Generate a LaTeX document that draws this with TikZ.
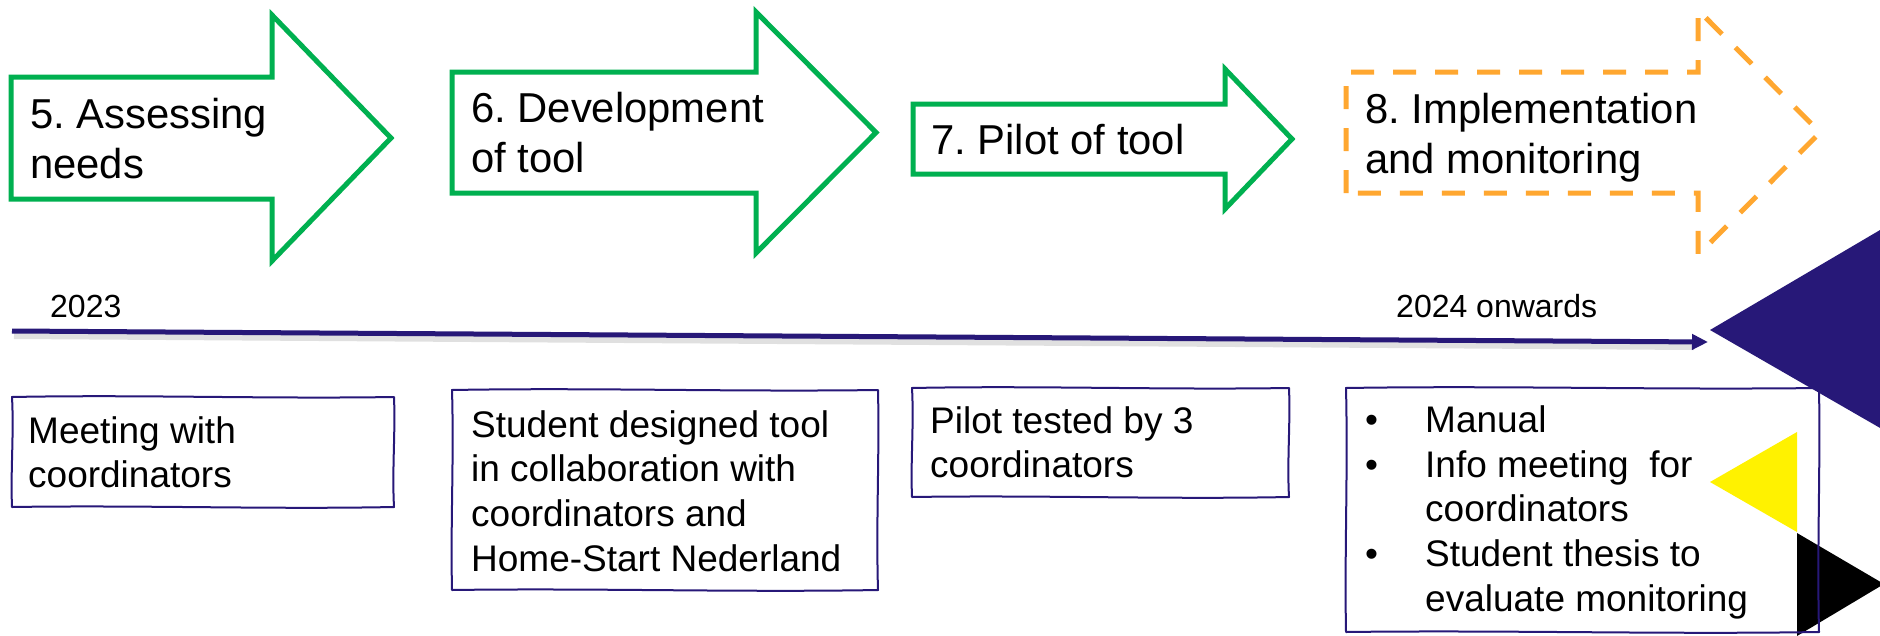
\documentclass[tikz,border=0pt]{standalone}
\usepackage{fontspec}
\setmainfont{Liberation Sans}
\usetikzlibrary{arrows.meta,calc}
\definecolor{grn}{RGB}{0,176,80}
\definecolor{org}{RGB}{255,167,48}
\definecolor{navy}{RGB}{39,24,120}
\frenchspacing
\newcommand\wobblybox[1]{%
  \draw[boxline] (#1.north west)
    .. controls ($(#1.north west)!0.33!(#1.north east)+(0,-2.5)$) and ($(#1.north west)!0.66!(#1.north east)+(0,2)$) .. (#1.north east)
    .. controls ($(#1.north east)!0.33!(#1.south east)+(1.5,0)$) and ($(#1.north east)!0.66!(#1.south east)+(-2,0)$) .. (#1.south east)
    .. controls ($(#1.south east)!0.33!(#1.south west)+(0,2.5)$) and ($(#1.south east)!0.66!(#1.south west)+(0,-2)$) .. (#1.south west)
    .. controls ($(#1.south west)!0.33!(#1.north west)+(-1.5,0)$) and ($(#1.south west)!0.66!(#1.north west)+(2,0)$) .. cycle;}
\begin{document}
\begin{tikzpicture}[x=1pt,y=-1pt,
  stagearrow/.style={draw=grn, line width=5pt, line join=miter, fill=white},
  planarrow/.style={draw=org, line width=5pt, dash pattern=on 23pt off 19pt},
  stagetext/.style={font=\fontsize{41.8}{50}\selectfont, align=left, inner sep=0pt, anchor=north west},
  boxtext/.style={font=\fontsize{37}{44.7}\selectfont, align=left, inner sep=0pt, anchor=north west},
  yeartext/.style={font=\fontsize{32}{38}\selectfont, inner sep=0pt, anchor=base west},
  boxframe/.style={draw=none, inner sep=0pt, outer sep=0pt},
  boxline/.style={draw=navy, line width=2pt, line join=round},
  timeline/.style={draw=navy, line width=5pt, -{Triangle[length=16pt,width=15pt]}}]
\useasboundingbox (0,0) rectangle (1880,635);
\fill[white] (0,0) rectangle (1880,635);

% stage arrows
\draw[stagearrow] (11,77) -- (272,77) -- (272,15) -- (391,138) -- (272,261) -- (272,199) -- (11,199) -- cycle;
\node[stagetext] (s5) at (30,98) {5. Assessing\\needs};

\draw[stagearrow] (452,72) -- (756,72) -- (756,12) -- (876,132.5) -- (756,253) -- (756,193) -- (452,193) -- cycle;
\node[stagetext] (s6) at (471,92) {6. Development\\of tool};

\draw[stagearrow] (913,104) -- (1225,104) -- (1225,69) -- (1292,139) -- (1225,209) -- (1225,174) -- (913,174) -- cycle;
\node[stagetext, anchor=base west] (s7) at (931,154) {7. Pilot of tool};

\draw[planarrow] (1346,193) -- (1346,72) -- (1698,72) -- (1698,10) -- (1820,132.5) -- (1698,255) -- (1698,193) -- cycle;
\node[stagetext] (s8) at (1365,93) {8. Implementation\\and monitoring};

% timeline
\coordinate (tl0) at (12,331);
\coordinate (tl1) at (1708,342);
\draw[black, opacity=0.12, line width=6pt] ([shift={(2,5)}]tl0) -- ([shift={(-14,5)}]tl1);
\draw[timeline] (tl0) -- (tl1);
\node[yeartext] (y23) at (50,317) {2023};
\node[yeartext] (y24) at (1396,317) {2024 onwards};

% boxes
\node[boxframe, minimum width=382pt, minimum height=110pt] (b1) at (203,452) {};
\wobblybox{b1}
\node[boxtext] (t1) at (28,416) {Meeting with\\coordinators};

\node[boxframe, minimum width=426pt, minimum height=200pt] (b2) at (665,490) {};
\wobblybox{b2}
\node[boxtext] (t2) at (471,410) {Student designed tool\\in collaboration with\\coordinators and\\Home-Start Nederland};

\node[boxframe, minimum width=377pt, minimum height=109pt] (b3) at (1100.5,442.5) {};
\wobblybox{b3}
\node[boxtext] (t3) at (930,406) {Pilot tested by 3\\coordinators};

% decorative triangles
\fill[yellow] (1710,482) -- (1797,432) -- (1797,532) -- cycle;
\fill[black] (1797,533) -- (1884,584) -- (1797,636) -- cycle;

\node[boxframe, minimum width=473pt, minimum height=244pt] (b4) at (1582.5,510) {};
\wobblybox{b4}
\node[boxtext] (t4) at (1365,405.5) {\makebox[60pt][l]{•}Manual\\\makebox[60pt][l]{•}Info meeting\ \ for\\\hspace*{60pt}coordinators\\\makebox[60pt][l]{•}Student thesis to\\\hspace*{60pt}evaluate monitoring};

\fill[navy] (1710,330) -- (1960,183) -- (1960,474) -- cycle;
\end{tikzpicture}
\end{document}
